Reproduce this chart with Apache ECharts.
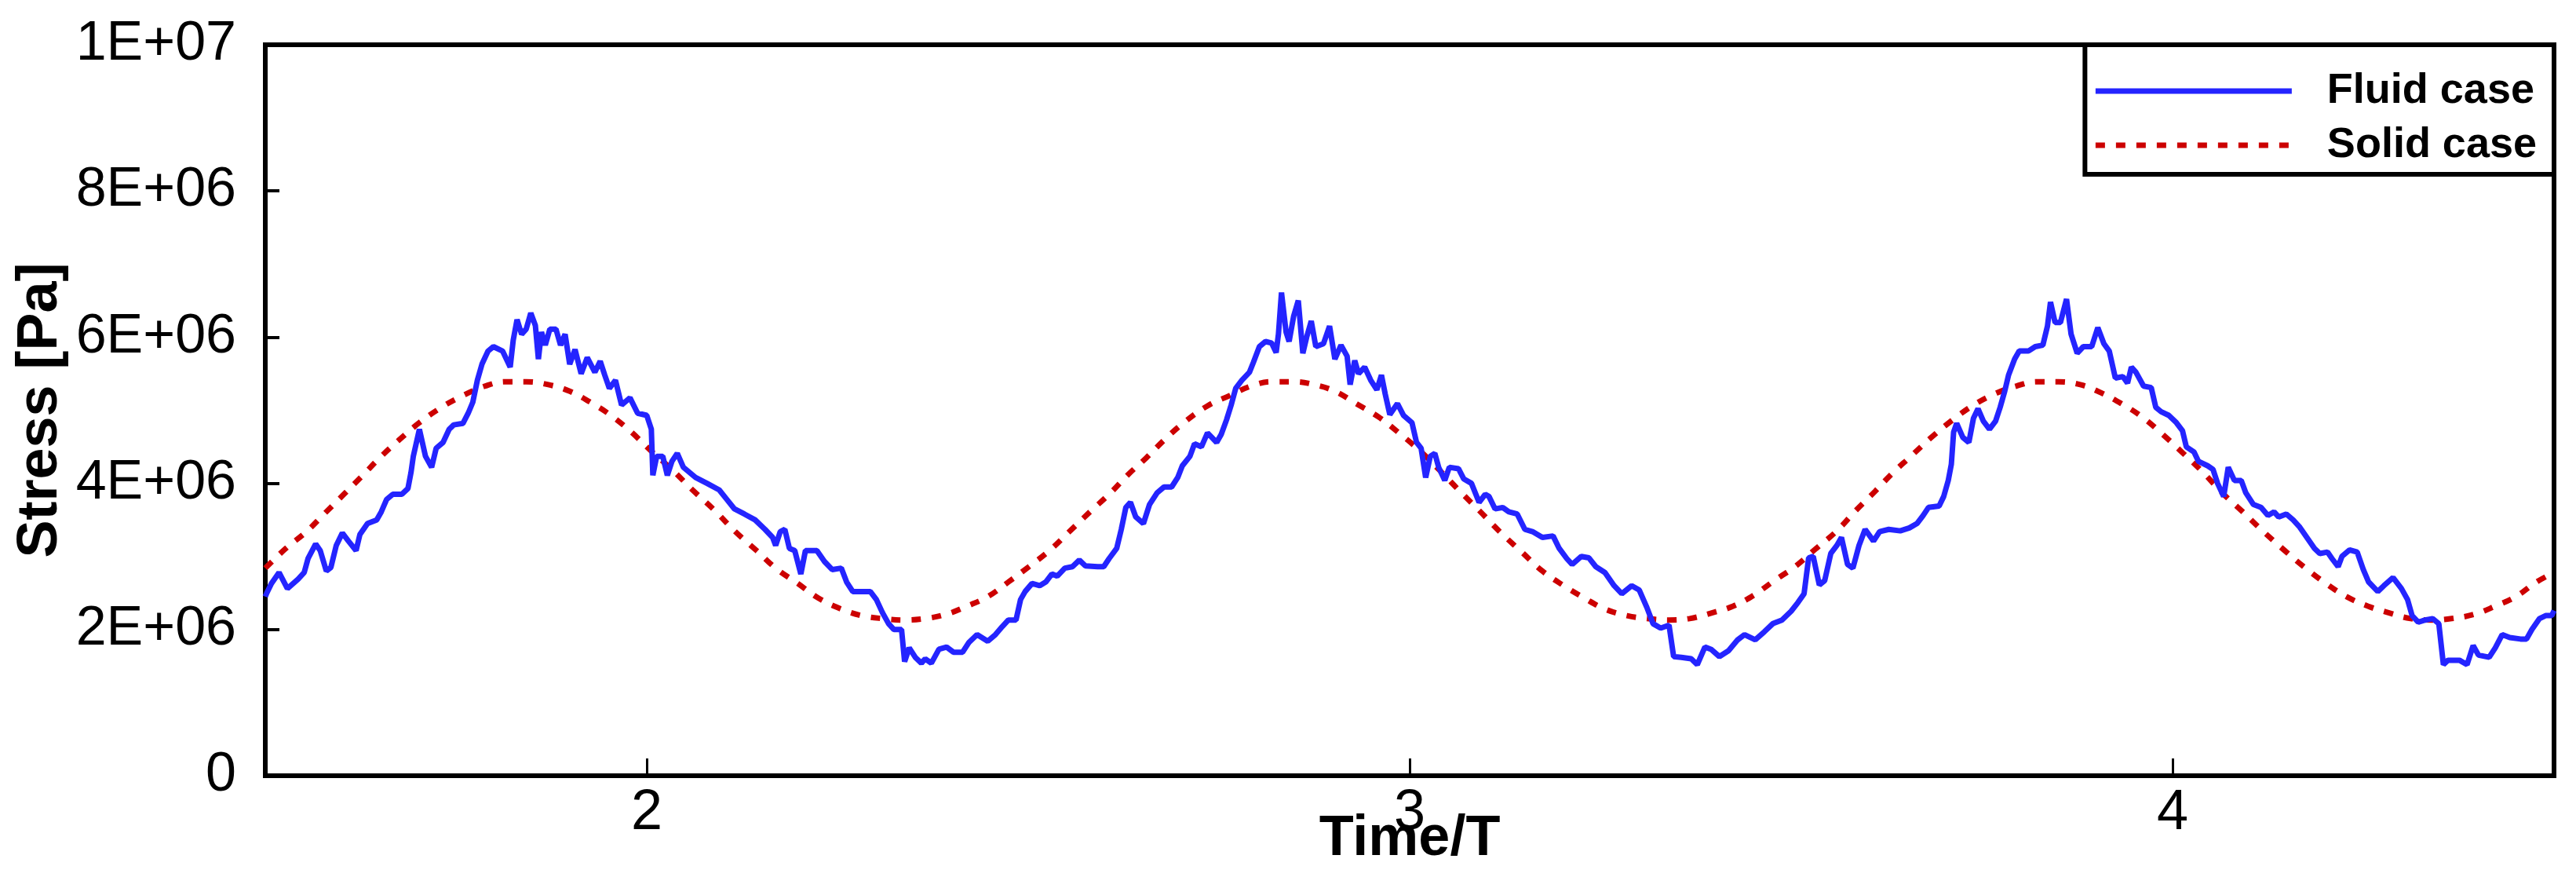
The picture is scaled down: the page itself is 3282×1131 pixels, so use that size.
<!DOCTYPE html>
<html>
<head>
<meta charset="utf-8">
<script src="https://cdn.jsdelivr.net/npm/echarts@6/dist/echarts.min.js"></script>
<style>
  html, body { margin: 0; padding: 0; background: #fff; }
  #chart { width: 3282px; height: 1131px; }
</style>
</head>
<body>
<div id="chart"></div>
<script>
// stress values below are in units of 1E+06 Pa, time in periods (Time/T)
const fluidTime = [
  1.500, 1.502, 1.508, 1.518, 1.529, 1.543, 1.551, 1.556, 1.566, 1.572, 1.580, 1.586, 1.593, 1.601, 1.609, 1.619,
  1.624, 1.634, 1.646, 1.652, 1.659, 1.667, 1.679, 1.687, 1.691, 1.694, 1.702, 1.710, 1.718, 1.724, 1.733, 1.741,
  1.747, 1.759, 1.766, 1.772, 1.778, 1.784, 1.792, 1.799, 1.811, 1.821, 1.825, 1.830, 1.836, 1.842, 1.848, 1.854,
  1.858, 1.862, 1.867, 1.873, 1.881, 1.887, 1.893, 1.899, 1.906, 1.914, 1.922, 1.932, 1.939, 1.945, 1.951, 1.959,
  1.967, 1.978, 1.988, 2.000, 2.006, 2.008, 2.013, 2.021, 2.027, 2.033, 2.040, 2.048, 2.064, 2.079, 2.095, 2.105,
  2.115, 2.128, 2.142, 2.155, 2.165, 2.169, 2.175, 2.181, 2.187, 2.194, 2.202, 2.208, 2.223, 2.233, 2.243, 2.255,
  2.262, 2.270, 2.293, 2.301, 2.309, 2.317, 2.324, 2.334, 2.338, 2.344, 2.352, 2.360, 2.365, 2.373, 2.383, 2.393,
  2.402, 2.414, 2.422, 2.433, 2.447, 2.457, 2.466, 2.474, 2.484, 2.490, 2.496, 2.505, 2.515, 2.523, 2.531, 2.538,
  2.548, 2.558, 2.567, 2.575, 2.591, 2.599, 2.606, 2.616, 2.622, 2.628, 2.634, 2.641, 2.651, 2.659, 2.669, 2.678,
  2.688, 2.696, 2.702, 2.712, 2.718, 2.727, 2.735, 2.747, 2.753, 2.760, 2.766, 2.772, 2.780, 2.790, 2.795, 2.803,
  2.811, 2.819, 2.825, 2.828, 2.832, 2.838, 2.842, 2.848, 2.854, 2.860, 2.865, 2.871, 2.877, 2.887, 2.895, 2.902,
  2.910, 2.918, 2.922, 2.928, 2.933, 2.941, 2.949, 2.957, 2.963, 2.968, 2.974, 2.984, 2.992, 3.003, 3.009, 3.015,
  3.021, 3.027, 3.033, 3.038, 3.046, 3.052, 3.064, 3.071, 3.081, 3.091, 3.099, 3.104, 3.112, 3.122, 3.130, 3.141,
  3.151, 3.161, 3.174, 3.188, 3.196, 3.206, 3.213, 3.225, 3.235, 3.244, 3.256, 3.268, 3.278, 3.291, 3.301, 3.311,
  3.319, 3.329, 3.340, 3.346, 3.356, 3.369, 3.377, 3.387, 3.395, 3.406, 3.418, 3.430, 3.439, 3.453, 3.465, 3.476,
  3.488, 3.500, 3.509, 3.517, 3.523, 3.529, 3.537, 3.544, 3.552, 3.560, 3.566, 3.574, 3.581, 3.589, 3.597, 3.608,
  3.616, 3.628, 3.643, 3.655, 3.665, 3.673, 3.680, 3.694, 3.700, 3.706, 3.710, 3.713, 3.717, 3.725, 3.733, 3.739,
  3.745, 3.752, 3.760, 3.768, 3.774, 3.780, 3.785, 3.793, 3.799, 3.811, 3.820, 3.830, 3.836, 3.840, 3.846, 3.853,
  3.861, 3.867, 3.875, 3.883, 3.894, 3.902, 3.910, 3.917, 3.925, 3.935, 3.941, 3.946, 3.952, 3.962, 3.972, 3.978,
  3.985, 3.995, 4.005, 4.013, 4.018, 4.028, 4.034, 4.046, 4.053, 4.059, 4.067, 4.073, 4.081, 4.090, 4.096, 4.106,
  4.116, 4.125, 4.133, 4.139, 4.149, 4.158, 4.166, 4.176, 4.186, 4.193, 4.203, 4.209, 4.217, 4.222, 4.232, 4.242,
  4.250, 4.257, 4.269, 4.277, 4.289, 4.300, 4.308, 4.314, 4.322, 4.331, 4.341, 4.349, 4.355, 4.361, 4.376, 4.386,
  4.394, 4.401, 4.415, 4.423, 4.432, 4.442, 4.456, 4.464, 4.471, 4.481, 4.489, 4.497, 4.500
];
const fluidStress = [
  2.45, 2.50, 2.63, 2.78, 2.56, 2.69, 2.78, 2.97, 3.17, 3.08, 2.80, 2.85, 3.15, 3.32, 3.21, 3.08,
  3.30, 3.45, 3.50, 3.61, 3.78, 3.85, 3.85, 3.93, 4.15, 4.37, 4.74, 4.37, 4.22, 4.48, 4.56, 4.74,
  4.80, 4.82, 4.96, 5.11, 5.41, 5.63, 5.81, 5.87, 5.81, 5.59, 5.96, 6.24, 6.04, 6.11, 6.33, 6.16,
  5.70, 6.07, 5.89, 6.11, 6.11, 5.89, 6.04, 5.63, 5.83, 5.50, 5.72, 5.52, 5.67, 5.48, 5.30, 5.41,
  5.07, 5.17, 4.96, 4.93, 4.74, 4.11, 4.37, 4.37, 4.11, 4.30, 4.41, 4.22, 4.08, 4.00, 3.91, 3.78,
  3.65, 3.58, 3.50, 3.37, 3.26, 3.15, 3.34, 3.37, 3.11, 3.08, 2.76, 3.08, 3.08, 2.93, 2.82, 2.84,
  2.65, 2.52, 2.52, 2.41, 2.23, 2.08, 2.00, 2.00, 1.56, 1.75, 1.62, 1.54, 1.60, 1.54, 1.73, 1.76,
  1.69, 1.69, 1.82, 1.93, 1.84, 1.93, 2.04, 2.13, 2.13, 2.41, 2.52, 2.63, 2.60, 2.65, 2.76, 2.73,
  2.84, 2.86, 2.95, 2.87, 2.86, 2.86, 2.97, 3.11, 3.37, 3.67, 3.74, 3.54, 3.45, 3.71, 3.87, 3.95,
  3.95, 4.08, 4.24, 4.37, 4.54, 4.50, 4.69, 4.56, 4.67, 4.87, 5.07, 5.30, 5.41, 5.52, 5.65, 5.87,
  5.94, 5.92, 5.79, 6.04, 6.61, 6.07, 5.94, 6.29, 6.50, 5.78, 6.00, 6.22, 5.87, 5.91, 6.15, 5.70,
  5.89, 5.74, 5.35, 5.68, 5.50, 5.59, 5.41, 5.28, 5.48, 5.22, 4.94, 5.09, 4.93, 4.83, 4.56, 4.48,
  4.08, 4.37, 4.41, 4.22, 4.04, 4.22, 4.20, 4.06, 4.00, 3.74, 3.85, 3.82, 3.65, 3.67, 3.61, 3.58,
  3.37, 3.34, 3.26, 3.28, 3.11, 2.97, 2.89, 3.00, 2.98, 2.86, 2.78, 2.60, 2.49, 2.60, 2.54, 2.30,
  2.08, 2.02, 2.06, 1.63, 1.62, 1.60, 1.52, 1.76, 1.73, 1.63, 1.71, 1.86, 1.93, 1.86, 1.97, 2.08,
  2.13, 2.25, 2.37, 2.49, 2.98, 3.00, 2.61, 2.67, 3.04, 3.15, 3.26, 2.89, 2.84, 3.15, 3.37, 3.21,
  3.34, 3.37, 3.35, 3.39, 3.45, 3.56, 3.67, 3.69, 3.82, 4.04, 4.26, 4.70, 4.82, 4.63, 4.56, 4.89,
  5.02, 4.85, 4.74, 4.85, 5.04, 5.26, 5.48, 5.70, 5.81, 5.81, 5.87, 5.89, 6.15, 6.48, 6.20, 6.20,
  6.52, 6.04, 5.78, 5.87, 5.87, 6.13, 5.91, 5.81, 5.44, 5.46, 5.37, 5.59, 5.52, 5.33, 5.31, 5.04,
  4.98, 4.93, 4.83, 4.72, 4.50, 4.43, 4.30, 4.24, 4.19, 4.00, 3.82, 4.22, 4.04, 4.04, 3.87, 3.71,
  3.67, 3.56, 3.61, 3.54, 3.58, 3.50, 3.41, 3.26, 3.11, 3.04, 3.06, 2.97, 2.86, 3.00, 3.09, 3.06,
  2.82, 2.65, 2.52, 2.60, 2.71, 2.56, 2.41, 2.19, 2.10, 2.13, 2.15, 2.08, 1.52, 1.58, 1.58, 1.52,
  1.78, 1.65, 1.62, 1.75, 1.93, 1.89, 1.87, 1.87, 2.00, 2.15, 2.19, 2.19, 2.26
];

const solidTime = [
  1.500, 1.527, 1.554, 1.578, 1.603, 1.626, 1.650, 1.675, 1.702, 1.731, 1.759, 1.788, 1.815, 1.842, 1.871, 1.899,
  1.926, 1.953, 1.980, 2.005, 2.033, 2.060, 2.089, 2.116, 2.144, 2.169, 2.198, 2.225, 2.255, 2.282, 2.309, 2.338,
  2.365, 2.393, 2.420, 2.447, 2.474, 2.501, 2.529, 2.554, 2.581, 2.608, 2.632, 2.655, 2.678, 2.704, 2.735, 2.764,
  2.792, 2.819, 2.848, 2.875, 2.902, 2.930, 2.959, 2.986, 3.013, 3.042, 3.066, 3.091, 3.120, 3.147, 3.174, 3.202,
  3.229, 3.256, 3.285, 3.311, 3.340, 3.367, 3.397, 3.424, 3.451, 3.478, 3.505, 3.533, 3.560, 3.585, 3.610, 3.632,
  3.657, 3.684, 3.712, 3.739, 3.766, 3.795, 3.822, 3.850, 3.879, 3.906, 3.933, 3.960, 3.987, 4.014, 4.040, 4.065,
  4.092, 4.118, 4.147, 4.172, 4.201, 4.228, 4.256, 4.283, 4.312, 4.339, 4.366, 4.396, 4.423, 4.450, 4.477, 4.500
];
const solidStress = [
  2.84, 3.11, 3.34, 3.59, 3.85, 4.09, 4.35, 4.59, 4.83, 5.04, 5.20, 5.33, 5.39, 5.39, 5.35, 5.26,
  5.11, 4.93, 4.70, 4.45, 4.19, 3.91, 3.63, 3.34, 3.08, 2.84, 2.63, 2.43, 2.28, 2.19, 2.15, 2.13,
  2.15, 2.21, 2.32, 2.45, 2.65, 2.86, 3.09, 3.34, 3.61, 3.87, 4.13, 4.35, 4.59, 4.83, 5.06, 5.20,
  5.33, 5.39, 5.39, 5.35, 5.26, 5.09, 4.91, 4.69, 4.45, 4.15, 3.89, 3.63, 3.32, 3.06, 2.80, 2.60,
  2.43, 2.28, 2.19, 2.15, 2.13, 2.15, 2.23, 2.32, 2.47, 2.67, 2.86, 3.11, 3.35, 3.63, 3.89, 4.13,
  4.37, 4.63, 4.87, 5.07, 5.22, 5.33, 5.39, 5.39, 5.35, 5.24, 5.09, 4.91, 4.67, 4.41, 4.15, 3.87,
  3.61, 3.35, 3.08, 2.86, 2.63, 2.45, 2.32, 2.23, 2.15, 2.13, 2.15, 2.21, 2.32, 2.45, 2.65, 2.78
];

const timeTicks = [2, 3, 4];

const fluidColor = '#2424ff';
const solidColor = '#cc0000';

const toPairs = (xs, ys) => xs.map((x, i) => [x, ys[i] * 1e6]);

// 8000000 -> "8E+06"
function sciLabel(v) {
  if (v === 0) return '0';
  let e = Math.floor(Math.log10(v) + 1e-9);
  let m = Math.round(v / Math.pow(10, e));
  return m + 'E+' + (e < 10 ? '0' : '') + e;
}

let chart = echarts.init(document.getElementById('chart'), null, { renderer: 'canvas' });

let option = {
  backgroundColor: '#fff',
  animation: false,
  textStyle: { fontFamily: 'Liberation Sans, Arial, sans-serif', color: '#000' },
  grid: {
    left: 338, right: 28, top: 57, bottom: 143,
    outerBoundsMode: 'none',
    show: true, borderColor: '#000', borderWidth: 6, backgroundColor: 'transparent'
  },
  legend: {
    orient: 'vertical',
    right: 28,
    top: 57,
    width: 587,
    padding: [32, 22, 10, 10],
    borderColor: '#000',
    borderWidth: 6,
    borderRadius: 0,
    backgroundColor: '#fff',
    itemWidth: 250,
    itemHeight: 14,
    itemGap: 15,
    textStyle: {
      fontFamily: 'Liberation Sans, Arial, sans-serif',
      fontWeight: 'bold',
      fontSize: 54,
      color: '#000',
      padding: [0, 0, 0, 40]
    },
    data: [
      {
        name: 'Fluid case',
        itemStyle: { color: 'transparent', borderWidth: 0 },
        lineStyle: { color: fluidColor, width: 7, type: 'solid' }
      },
      {
        name: 'Solid case',
        itemStyle: { color: 'transparent', borderWidth: 0 },
        lineStyle: { color: solidColor, width: 7, type: [12, 14], cap: 'butt' }
      }
    ]
  },
  xAxis: {
    type: 'value',
    min: 1.5,
    max: 4.5,
    name: 'Time/T',
    nameLocation: 'middle',
    nameGap: 45,
    nameMoveOverlap: false,
    nameTextStyle: { fontSize: 72, fontWeight: 'bold', color: '#000', fontFamily: 'Liberation Sans, Arial, sans-serif' },
    axisLine: { show: true, onZero: false, lineStyle: { color: '#000', width: 6 } },
    axisTick: { show: true, inside: true, length: 22, lineStyle: { color: '#000', width: 3 }, customValues: timeTicks },
    axisLabel: { fontSize: 72, color: '#000', margin: 12, customValues: timeTicks },
    splitLine: { show: false }
  },
  yAxis: {
    type: 'value',
    min: 0,
    max: 1e7,
    interval: 2e6,
    name: 'Stress [Pa]',
    nameLocation: 'middle',
    nameGap: 250,
    nameMoveOverlap: false,
    nameTextStyle: { fontSize: 72, fontWeight: 'bold', color: '#000', fontFamily: 'Liberation Sans, Arial, sans-serif' },
    axisLine: { show: true, lineStyle: { color: '#000', width: 6 } },
    axisTick: { show: true, inside: true, length: 18, lineStyle: { color: '#000', width: 4 } },
    axisLabel: { fontSize: 70, color: '#000', margin: 37, formatter: sciLabel },
    splitLine: { show: false }
  },
  series: [
    {
      name: 'Fluid case',
      type: 'line',
      data: toPairs(fluidTime, fluidStress),
      symbol: 'none',
      lineStyle: { color: fluidColor, width: 7 },
      itemStyle: { color: fluidColor },
      z: 3
    },
    {
      name: 'Solid case',
      type: 'line',
      data: toPairs(solidTime, solidStress),
      symbol: 'none',
      smooth: 0.4,
      lineStyle: { color: solidColor, width: 7, type: [12, 14], cap: 'butt' },
      itemStyle: { color: solidColor },
      z: 2
    }
  ]
};

chart.setOption(option);
</script>
</body>
</html>
